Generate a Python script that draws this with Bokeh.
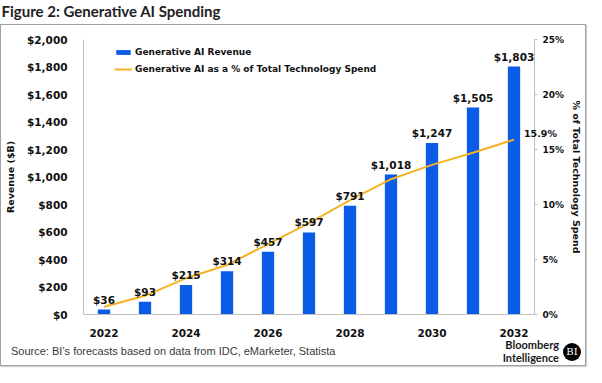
from bokeh.plotting import figure
from bokeh.layouts import column
from bokeh.models import (Range1d, LinearAxis, FixedTicker, NumeralTickFormatter,
                          PrintfTickFormatter, ColumnDataSource, LabelSet, Label,
                          Legend, LegendItem, Div)
from bokeh.core.properties import value
from bokeh.embed import file_html
from bokeh.resources import INLINE

# ---- data ----
years = [2022, 2023, 2024, 2025, 2026, 2027, 2028, 2029, 2030, 2031, 2032]
revenue = [36, 93, 215, 314, 457, 597, 791, 1018, 1247, 1505, 1803]
pct_of_spend = [0.7, 1.7, 3.3, 4.5, 6.4, 8.3, 10.4, 12.3, 13.6, 14.7, 15.9]
year_ticks = [2022, 2024, 2026, 2028, 2030, 2032]
rev_ticks = [0, 200, 400, 600, 800, 1000, 1200, 1400, 1600, 1800, 2000]
pct_ticks = [0, 5, 10, 15, 20, 25]

title_text = "Figure 2: Generative AI Spending"
source_text = "Source: BI\u2019s forecasts based on data from IDC, eMarketer, Statista"
logo_lines = ["Bloomberg", "Intelligence"]
logo_mark = "BI"
series_names = ["Generative AI Revenue", "Generative AI as a % of Total Technology Spend"]

BLUE = "#0A5BE6"
ORANGE = "#F5B225"
GRAY = "#BFBFBF"
INK = "#111111"
BOLD = "DejaVu Sans"

W = 586
INNER_W = W - 2
HEAD_H, BODY_H, FOOT_H = 24, 314, 26
FL, FR, FT, FB = 76, 49, 14, 24

# ---- header (title) ----
head = figure(width=W, height=HEAD_H, output_backend="svg", toolbar_location=None,
              x_range=Range1d(0, 1), y_range=Range1d(0, 1),
              min_border=0, x_axis_location=None, y_axis_location=None)
head.outline_line_color = None
head.xgrid.visible = False
head.ygrid.visible = False
head.add_layout(Label(x=1, y=HEAD_H - 10.5, x_units="screen", y_units="screen",
                      text=title_text, text_font="Lato", text_font_style="bold",
                      text_font_size="15px", text_color="#222222", text_baseline="middle"))

# ---- main chart ----
p = figure(width=INNER_W, height=BODY_H, output_backend="svg", toolbar_location=None,
           x_range=Range1d(2021.5, 2032.5), y_range=Range1d(0, 2000),
           min_border_left=FL, min_border_right=FR, min_border_top=FT, min_border_bottom=FB,
           y_axis_location=None, x_axis_location=None)
p.extra_y_ranges = {"pct": Range1d(0, 25)}
p.outline_line_color = None
p.xgrid.visible = False
p.ygrid.visible = False

src = ColumnDataSource(dict(x=years, rev=revenue, pct=pct_of_spend,
                            lab=[f"${v:,}" for v in revenue]))

bars = p.vbar(x="x", top="rev", width=0.3, source=src, fill_color=BLUE, line_color=None)
line = p.line(x="x", y="pct", source=src, y_range_name="pct", line_color=ORANGE, line_width=2)

ly = LinearAxis(axis_label="Revenue ($B)", ticker=FixedTicker(ticks=rev_ticks),
                formatter=NumeralTickFormatter(format="$0,0"))
ly.axis_line_color = GRAY
ly.major_tick_line_color = None
ly.minor_tick_line_color = None
ly.major_label_standoff = 10
ly.major_label_text_font = BOLD
ly.major_label_text_font_style = "bold"
ly.major_label_text_font_size = "10.5px"
ly.major_label_text_color = INK
ly.axis_label_text_font = BOLD
ly.axis_label_text_font_style = "bold"
ly.axis_label_text_font_size = "9.5px"
ly.axis_label_text_color = INK
ly.axis_label_standoff = 8
p.add_layout(ly, "left")

ry = LinearAxis(y_range_name="pct", axis_label="% of Total Technology Spend",
                ticker=FixedTicker(ticks=pct_ticks),
                formatter=PrintfTickFormatter(format="%d%%"))
ry.axis_line_color = GRAY
ry.major_tick_line_color = GRAY
ry.major_tick_in = 0
ry.major_tick_out = 3
ry.minor_tick_line_color = None
ry.major_label_standoff = 5
ry.major_label_text_font = BOLD
ry.major_label_text_font_style = "bold"
ry.major_label_text_font_size = "9px"
ry.major_label_text_color = INK
ry.axis_label_text_font = BOLD
ry.axis_label_text_font_style = "bold"
ry.axis_label_text_font_size = "9.5px"
ry.axis_label_text_color = INK
ry.axis_label_standoff = 4
p.add_layout(ry, "right")

bx = LinearAxis(ticker=FixedTicker(ticks=year_ticks))
bx.axis_line_color = GRAY
bx.major_tick_line_color = None
bx.minor_tick_line_color = None
bx.major_label_standoff = 8
bx.major_label_text_font = BOLD
bx.major_label_text_font_style = "bold"
bx.major_label_text_font_size = "10.5px"
bx.major_label_text_color = INK
p.add_layout(bx, "below")

p.add_layout(LabelSet(x="x", y="rev", text="lab", source=src, text_align="center",
                      text_baseline="alphabetic", y_offset=6,
                      text_font=value(BOLD), text_font_style="bold",
                      text_font_size="10.5px", text_color=INK))

# end-of-line label, placed in a side panel so it may run past the frame edge
p.add_layout(Label(x=years[-1], y=pct_of_spend[-1], y_range_name="pct",
                   text=f"{pct_of_spend[-1]}%", x_offset=10, y_offset=6,
                   text_baseline="middle", text_align="left",
                   text_font=BOLD, text_font_style="bold", text_font_size="9.5px",
                   text_color=INK), "above")

legend = Legend(items=[LegendItem(label=series_names[0], renderers=[bars]),
                       LegendItem(label=series_names[1], renderers=[line])],
                location=(31, 238), orientation="vertical",
                glyph_width=18, glyph_height=6, label_height=15, spacing=2,
                padding=0, margin=0, label_standoff=3,
                label_text_font=BOLD, label_text_font_style="bold",
                label_text_font_size="9px", label_text_color=INK,
                background_fill_alpha=0, border_line_color=None)
p.add_layout(legend, "center")

# ---- footer (source + logo) ----
foot_html = (
    f'<div style="position:relative;width:{INNER_W}px;height:{FOOT_H}px;">'
    f'<span style="position:absolute;left:10px;top:6px;font-family:\'Liberation Sans\';'
    f'font-size:11px;line-height:13px;color:#3A3A3A;white-space:nowrap;">{source_text}</span>'
    f'<div style="position:absolute;right:26px;top:0px;text-align:right;font-family:Lato;'
    f'font-weight:bold;font-size:11px;line-height:12.5px;color:#1A1A1A;">'
    f'{logo_lines[0]}<br>{logo_lines[1]}</div>'
    f'<div style="position:absolute;right:4px;top:4px;width:18px;height:18px;border-radius:50%;'
    f'background:#000;color:#fff;font-family:\'DejaVu Serif\';font-size:10px;line-height:18px;'
    f'text-align:center;">{logo_mark}</div>'
    f'</div>'
)
foot = Div(text=foot_html, width=INNER_W, height=FOOT_H, margin=0)

boxed = column(p, foot, spacing=0,
               styles={"border": "1px solid #A0A0A0", "box-shadow": "1px 1px 1px #D0D0D0"})
page = column(head, boxed, spacing=0)

open("out.html", "w").write(file_html(page, INLINE))
